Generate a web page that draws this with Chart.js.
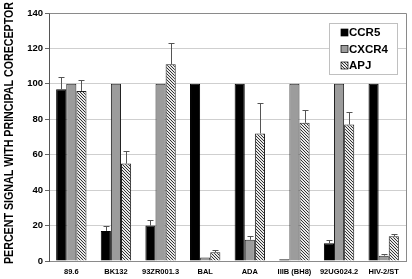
<!DOCTYPE html>
<html><head><meta charset="utf-8">
<script src="https://cdn.jsdelivr.net/npm/chart.js@4"></script>
<style>html,body{margin:0;padding:0;background:#fff}</style></head><body>
<canvas id="c" width="412" height="279"></canvas>
<script>
const categories = ['89.6','BK132','93ZR001.3','BAL','ADA','IIIB (BH8)','92UG024.2','HIV-2/ST'];
const seriesNames = ['CCR5','CXCR4','APJ'];
const ccr5 = [97,17,20,100,100,1,10,100];
const cxcr4 = [100,100,100,2,12,100,100,3];
const apj = [96,55,111,5,72,78,77,14];
const ccr5Err = [7,3,3,0,0,0,2,0];
const cxcr4Err = [0,0,0,0,2,0,0,1];
const apjErr = [6,7,12,1,17,7,7,1.5];
const yTicks = [0,20,40,60,80,100,120,140];
const yTitle = 'PERCENT SIGNAL WITH PRINCIPAL CORECEPTOR';

function hatch(){
  const c=document.createElement('canvas'); c.width=3; c.height=3;
  const g=c.getContext('2d');
  g.fillStyle='#e8e8e8'; g.fillRect(0,0,3,3);
  g.fillStyle='#333';
  g.fillRect(0,0,1,1); g.fillRect(1,1,1,1); g.fillRect(2,2,1,1);
  return g.createPattern(c,'repeat');
}
const hatchPat = hatch();
const errs = [ccr5Err, cxcr4Err, apjErr];

const errorPlugin = {
  id:'errs',
  afterDatasetsDraw(chart){
    const ctx=chart.ctx, ys=chart.scales.y;
    ctx.save();
    ctx.strokeStyle='#555'; ctx.lineWidth=1;
    errs.forEach((arr,di)=>{
      const meta=chart.getDatasetMeta(di);
      meta.data.forEach((bar,i)=>{
        const e=arr[i]; if(!e) return;
        const v=chart.data.datasets[di].data[i];
        const y0=ys.getPixelForValue(v), y1=Math.round(ys.getPixelForValue(v+e))+0.5;
        const x=Math.round(bar.x)+0.5;
        ctx.beginPath();
        ctx.moveTo(x,y0); ctx.lineTo(x,y1);
        ctx.moveTo(x-3,y1); ctx.lineTo(x+3,y1);
        ctx.stroke();
      });
    });
    ctx.restore();
  }
};

const decorPlugin = {
  id:'decor',
  afterDraw(chart){
    const ctx=chart.ctx, a=chart.chartArea;
    ctx.save();
    ctx.strokeStyle='#8a8a8a'; ctx.lineWidth=1;
    ctx.beginPath();
    ctx.moveTo(Math.round(a.left)+0.5, Math.round(a.top)+0.5);
    ctx.lineTo(Math.round(a.right)+0.5, Math.round(a.top)+0.5);
    ctx.lineTo(Math.round(a.right)+0.5, Math.round(a.bottom)+0.5);
    ctx.stroke();
    const lx=329.5, ly=23.5, lw=68, lh=51;
    ctx.fillStyle='#fff'; ctx.fillRect(lx,ly,lw,lh);
    ctx.strokeStyle='#c0c0c0'; ctx.strokeRect(lx,ly,lw,lh);
    const rows=[32.5,49,65.5];
    ctx.font='bold 11.5px "Liberation Sans", Arial, sans-serif';
    ctx.textBaseline='middle'; ctx.textAlign='left';
    chart.data.datasets.forEach((ds,i)=>{
      const y=rows[i];
      ctx.fillStyle=ds.backgroundColor;
      ctx.fillRect(341,y-3.5,7,7);
      ctx.strokeStyle='#000'; ctx.lineWidth=0.7;
      ctx.strokeRect(341,y-3.5,7,7);
      ctx.fillStyle='#000';
      ctx.fillText(ds.label,349,y+0.5);
    });
    ctx.translate(9.5,133);
    ctx.rotate(-Math.PI/2);
    ctx.font='bold 12.5px "Liberation Sans", Arial, sans-serif';
    const w=ctx.measureText(yTitle).width;
    ctx.scale(262/w,1);
    ctx.textAlign='center'; ctx.textBaseline='middle';
    ctx.fillStyle='#000';
    ctx.fillText(yTitle,0,0);
    ctx.restore();
  }
};

new Chart(document.getElementById('c'),{
  type:'bar',
  data:{
    labels:categories,
    datasets:[
      {label:seriesNames[0],data:ccr5,backgroundColor:'#000',borderColor:'#000',borderWidth:1},
      {label:seriesNames[1],data:cxcr4,backgroundColor:'#9c9c9c',borderColor:'#222',borderWidth:1},
      {label:seriesNames[2],data:apj,backgroundColor:hatchPat,borderColor:'#222',borderWidth:1}
    ]
  },
  options:{
    responsive:false, animation:false, devicePixelRatio:1,
    layout:{padding:{left:0,right:6,top:13,bottom:0}},
    datasets:{bar:{categoryPercentage:0.68,barPercentage:1.0}},
    plugins:{legend:{display:false},tooltip:{enabled:false}},
    scales:{
      x:{
        grid:{display:false,drawTicks:false},
        border:{display:true,color:'#8a8a8a'},
        ticks:{color:'#000',padding:6,font:{family:'"Liberation Sans", Arial, sans-serif',size:7.5,weight:'bold'},maxRotation:0,autoSkip:false},
        afterFit(s){s.height=18;}
      },
      y:{
        min:0,max:140,
        afterBuildTicks(s){s.ticks=yTicks.map(v=>({value:v}));},
        grid:{color:'#cfcfcf',tickColor:'#666',tickLength:4},
        border:{display:true,color:'#555'},
        ticks:{color:'#000',padding:2,font:{family:'"Liberation Sans", Arial, sans-serif',size:9.5,weight:'bold'}},
        afterFit(s){s.width=49;}
      }
    }
  },
  plugins:[errorPlugin,decorPlugin]
});
</script>
</body></html>
